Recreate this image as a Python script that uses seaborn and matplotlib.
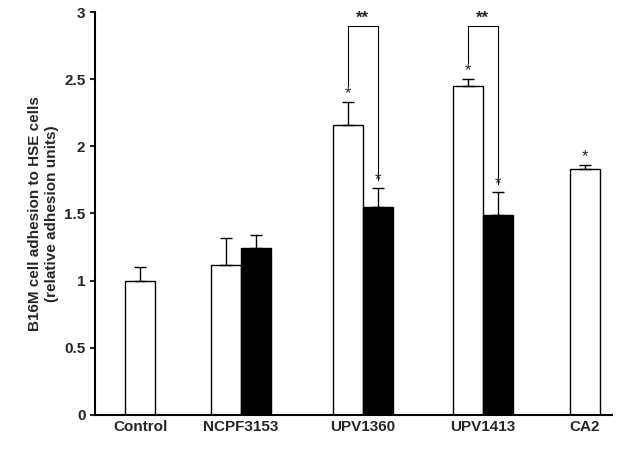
import matplotlib
matplotlib.use('Agg')
import matplotlib.pyplot as plt
import seaborn as sns

groups = ['Control', 'NCPF3153', 'UPV1360', 'UPV1413', 'CA2']
white_vals = [1.0, 1.12, 2.16, 2.45, 1.83]
white_err = [0.10, 0.20, 0.17, 0.05, 0.03]
black_vals = [None, 1.24, 1.55, 1.49, None]
black_err = [None, 0.10, 0.14, 0.17, None]

sns.set_style('ticks')
plt.rcParams['font.family'] = ['Liberation Sans', 'DejaVu Sans']

fig = plt.figure(figsize=(6.22, 4.49), dpi=100)
ax = fig.add_axes([0.153, 0.076, 0.831, 0.897])

w = 0.5
white_x = [0.75, 2.17, 4.2, 6.2, 8.15]
label_x = [0.75, 2.42, 4.45, 6.45, 8.15]

for i in range(len(groups)):
    ax.bar(white_x[i], white_vals[i], w, color='white', edgecolor='black', linewidth=1)
    ax.errorbar(white_x[i], white_vals[i], yerr=[[0], [white_err[i]]], color='black',
                capsize=4, elinewidth=1, capthick=1)
    if black_vals[i] is not None:
        bx = white_x[i] + w
        ax.bar(bx, black_vals[i], w, color='black', edgecolor='black', linewidth=1)
        ax.errorbar(bx, black_vals[i], yerr=[[0], [black_err[i]]], color='black',
                    capsize=4, elinewidth=1, capthick=1)

# significance marks
for i in [2, 3]:
    x1, x2 = white_x[i], white_x[i] + w
    wtop = white_vals[i] + white_err[i]
    btop = black_vals[i] + black_err[i]
    ax.plot([x1, x1, x2, x2], [wtop + 0.12, 2.9, 2.9, btop + 0.06], color='black', lw=0.8)
    ax.text((x1 + x2) / 2, 2.9, '**', ha='center', va='bottom', fontsize=12, fontweight='bold')
    ax.text(x1, wtop + 0.01, '*', ha='center', va='bottom', fontsize=12)
    ax.text(x2, btop + 0.01, '*', ha='center', va='bottom', fontsize=12)
ax.text(white_x[4], white_vals[4] + white_err[4] + 0.01, '*', ha='center', va='bottom', fontsize=12)

ax.set_xlim(0, 8.6)
ax.set_ylim(0, 3)
ax.set_yticks([0, 0.5, 1, 1.5, 2, 2.5, 3])
ax.set_yticklabels(['0', '0.5', '1', '1.5', '2', '2.5', '3'], fontweight='bold', fontsize=11)
ax.set_xticks(label_x)
ax.set_xticklabels(groups, fontweight='bold', fontsize=11)
ax.tick_params(axis='x', length=0)
ax.tick_params(axis='y', width=1.5)
ax.set_ylabel('B16M cell adhesion to HSE cells\n(relative adhesion units)', fontweight='bold', fontsize=11)
sns.despine(ax=ax)
for s in ['left', 'bottom']:
    ax.spines[s].set_linewidth(1.5)
    ax.spines[s].set_color('black')

fig.savefig('out.png', dpi=100)
